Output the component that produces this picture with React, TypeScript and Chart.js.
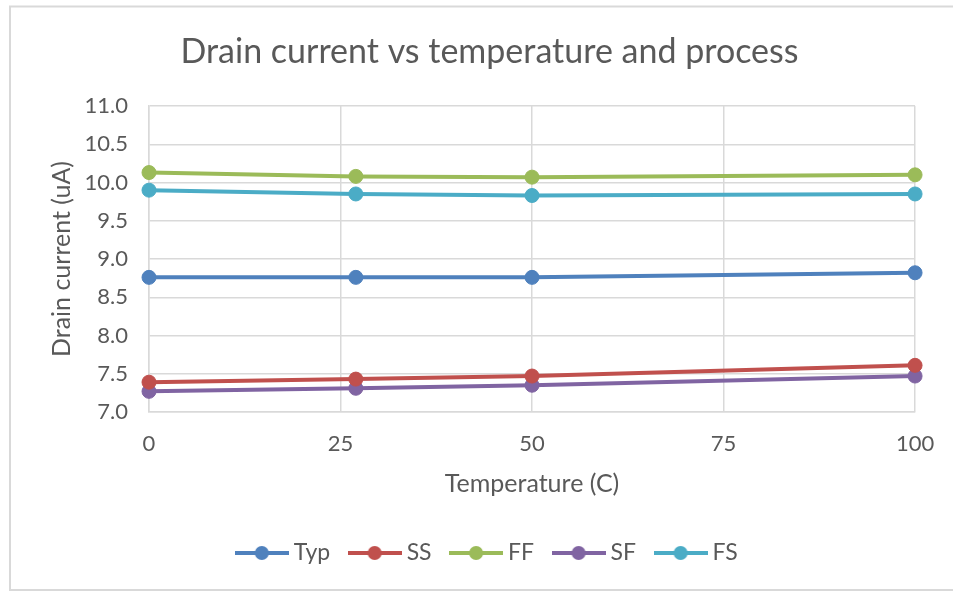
import React, { useEffect, useRef } from "react";
import { Chart, registerables } from "chart.js";

Chart.register(...registerables);

// Temperature points (°C) at which the drain current was simulated
const temperatures = [0, 27, 50, 100];

// Drain current (uA) per process corner
const typ = [8.76, 8.76, 8.76, 8.82];
const ss = [7.39, 7.43, 7.47, 7.61];
const ff = [10.13, 10.08, 10.07, 10.1];
const sf = [7.27, 7.31, 7.35, 7.47];
const fs = [9.9, 9.85, 9.83, 9.85];

const seriesNames = ["Typ", "SS", "FF", "SF", "FS"];
const seriesValues = [typ, ss, ff, sf, fs];
const seriesColors = ["#4F81BD", "#C0504D", "#9BBB59", "#8064A2", "#4BACC6"];

// Axis tick values
const xTickValues = [0, 25, 50, 75, 100];
const yTickValues = [7.0, 7.5, 8.0, 8.5, 9.0, 9.5, 10.0, 10.5, 11.0];

const WIDTH = 953;
const HEIGHT = 591;
const FONT = "Lato, 'Noto Sans', sans-serif";
const TEXT = "#595959";
const GRID = "#d9d9d9";

const PAD = { left: 63, right: 37, top: 0, bottom: 16.5 };
const PLOT_LEFT = 149;
const PLOT_BOTTOM = 412;

function makeLegendIcon(color: string): HTMLCanvasElement {
  const c = document.createElement("canvas");
  c.width = 54;
  c.height = 16;
  const ctx = c.getContext("2d")!;
  ctx.strokeStyle = color;
  ctx.lineWidth = 4;
  ctx.beginPath();
  ctx.moveTo(0, 8);
  ctx.lineTo(54, 8);
  ctx.stroke();
  ctx.fillStyle = color;
  ctx.beginPath();
  ctx.arc(27, 8, 7, 0, Math.PI * 2);
  ctx.fill();
  return c;
}

// Light frame around the whole chart object
const framePlugin = {
  id: "chartFrame",
  beforeDraw(chart: any) {
    const { ctx } = chart;
    ctx.save();
    ctx.fillStyle = "#ffffff";
    ctx.fillRect(0, 0, chart.width, chart.height);
    ctx.strokeStyle = GRID;
    ctx.lineWidth = 2;
    ctx.strokeRect(10, 6.5, chart.width + 20, 583.5);
    ctx.restore();
  },
};

export default function App() {
  const canvasRef = useRef<HTMLCanvasElement | null>(null);

  useEffect(() => {
    if (!canvasRef.current) return;
    const icons = seriesColors.map(makeLegendIcon);

    const chart = new Chart(canvasRef.current, {
      type: "line",
      data: {
        datasets: seriesNames.map((name, i) => ({
          label: name,
          data: temperatures.map((t, j) => ({ x: t, y: seriesValues[i][j] })),
          borderColor: seriesColors[i],
          backgroundColor: seriesColors[i],
          borderWidth: 4,
          borderCapStyle: "round",
          borderJoinStyle: "round",
          pointRadius: 7,
          pointBorderWidth: 1,
          pointBorderColor: seriesColors[i],
          pointBackgroundColor: seriesColors[i],
          tension: 0,
          clip: false,
        })),
      },
      options: {
        responsive: false,
        animation: false,
        events: [],
        layout: { padding: PAD },
        plugins: {
          title: {
            display: true,
            text: "Drain current vs temperature and process",
            color: TEXT,
            font: { family: FONT, size: 34, weight: "normal" },
            padding: { top: 31.6, bottom: 33.6 },
          },
          legend: {
            position: "bottom",
            labels: {
              usePointStyle: true,
              pointStyleWidth: 41,
              padding: 24,
              color: TEXT,
              font: { family: FONT, size: 23 },
              generateLabels: (ch: any) =>
                Chart.defaults.plugins.legend.labels
                  .generateLabels(ch)
                  .map((item: any, i: number) => ({ ...item, pointStyle: icons[i] })),
            },
          },
          tooltip: { enabled: false },
        },
        scales: {
          x: {
            type: "linear",
            min: 0,
            max: 100,
            afterBuildTicks: (axis: any) => {
              axis.ticks = xTickValues.map((v) => ({ value: v }));
            },
            afterFit: (scale: any) => {
              const lg = scale.chart.legend ? scale.chart.legend.height : 57;
              scale.height = HEIGHT - PAD.bottom - lg - PLOT_BOTTOM;
            },
            grid: { color: GRID, lineWidth: 1.5, drawTicks: false },
            border: { color: GRID, width: 1.5 },
            ticks: {
              padding: 18.8,
              color: TEXT,
              font: { family: FONT, size: 22 },
              callback: (v: any) => String(v),
            },
            title: {
              display: true,
              text: "Temperature (C)",
              color: TEXT,
              font: { family: FONT, size: 25 },
              padding: { top: 0, bottom: 18.5 },
            },
          },
          y: {
            type: "linear",
            min: 7,
            max: 11,
            afterBuildTicks: (axis: any) => {
              axis.ticks = yTickValues.map((v) => ({ value: v }));
            },
            afterFit: (scale: any) => {
              scale.width = PLOT_LEFT - PAD.left;
            },
            grid: { color: GRID, lineWidth: 1.5, drawTicks: false },
            border: { color: GRID, width: 1.5 },
            ticks: {
              padding: 21,
              color: TEXT,
              font: { family: FONT, size: 22 },
              callback: (v: any) => Number(v).toFixed(1),
            },
            title: {
              display: true,
              text: "Drain current (uA)",
              color: TEXT,
              font: { family: FONT, size: 25 },
              padding: { top: -16, bottom: 0 },
            },
          },
        },
      },
      plugins: [framePlugin],
    } as any);

    return () => chart.destroy();
  }, []);

  return (
    <div style={{ position: "absolute", left: 0, top: 0, width: WIDTH, height: HEIGHT }}>
      <canvas
        ref={canvasRef}
        width={WIDTH}
        height={HEIGHT}
        style={{ width: WIDTH, height: HEIGHT, display: "block" }}
      />
    </div>
  );
}
